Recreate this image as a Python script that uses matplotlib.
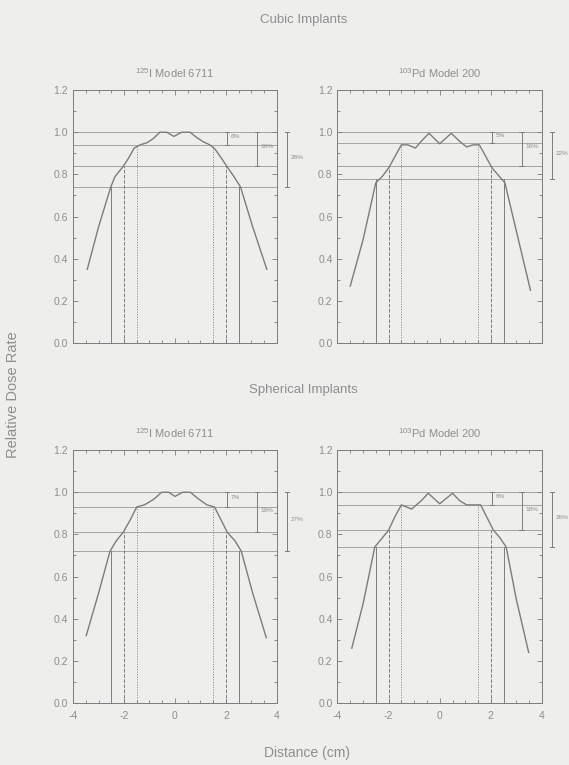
import matplotlib
matplotlib.use('Agg')
import matplotlib.pyplot as plt

plt.rcParams['font.family'] = ['Liberation Sans', 'DejaVu Sans']
plt.rcParams['mathtext.fontset'] = 'custom'
plt.rcParams['mathtext.rm'] = 'Liberation Sans'
plt.rcParams['axes.unicode_minus'] = False

BG = '#eeeeec'
INK = '#8e8e8e'
LINE = '#7c7c7c'

# cubic implants, I-125 model 6711
cubic_i_x = [-3.44, -3.0, -2.52, -2.35, -2.05, -1.83, -1.6, -1.37, -1.1, -0.85, -0.59, -0.33, -0.04,
             0.26, 0.59, 0.85, 1.1, 1.37, 1.57, 1.83, 2.05, 2.31, 2.57, 3.05, 3.6]
cubic_i_y = [0.35, 0.55, 0.74, 0.79, 0.835, 0.875, 0.925, 0.94, 0.95, 0.97, 1.0, 1.0, 0.98,
             1.0, 1.0, 0.975, 0.955, 0.94, 0.92, 0.875, 0.835, 0.79, 0.74, 0.55, 0.35]
# cubic implants, Pd-103 model 200
cubic_pd_x = [-3.5, -3.0, -2.5, -2.25, -2.0, -1.75, -1.5, -1.25, -0.95, -0.7, -0.42, 0.0,
              0.45, 0.75, 1.05, 1.3, 1.55, 1.8, 2.05, 2.3, 2.55, 3.0, 3.55]
cubic_pd_y = [0.27, 0.49, 0.76, 0.79, 0.83, 0.885, 0.94, 0.94, 0.925, 0.96, 0.995, 0.945,
              0.995, 0.96, 0.93, 0.94, 0.94, 0.885, 0.83, 0.795, 0.76, 0.53, 0.25]
# spherical implants, I-125
sph_i_x = [-3.48, -3.0, -2.55, -2.3, -2.03, -1.75, -1.5, -1.2, -0.85, -0.52, -0.25, 0.0,
           0.3, 0.6, 0.9, 1.25, 1.55, 1.8, 2.05, 2.35, 2.6, 3.05, 3.58]
sph_i_y = [0.32, 0.52, 0.72, 0.77, 0.81, 0.87, 0.93, 0.94, 0.965, 1.0, 1.0, 0.98,
           1.0, 1.0, 0.97, 0.94, 0.93, 0.87, 0.81, 0.77, 0.72, 0.52, 0.31]
# spherical implants, Pd-103
sph_pd_x = [-3.44, -3.0, -2.54, -2.27, -2.0, -1.75, -1.5, -1.1, -0.72, -0.45, 0.0,
            0.5, 0.78, 1.05, 1.3, 1.6, 1.85, 2.1, 2.35, 2.6, 3.0, 3.48]
sph_pd_y = [0.26, 0.47, 0.74, 0.78, 0.82, 0.885, 0.94, 0.92, 0.96, 0.995, 0.945,
            0.995, 0.96, 0.94, 0.94, 0.94, 0.88, 0.82, 0.785, 0.74, 0.49, 0.24]

# dose levels (100%, margin levels) and their labels
levels = {
    'cubic_i': [1.0, 0.94, 0.84, 0.74],
    'cubic_pd': [1.0, 0.95, 0.84, 0.78],
    'sph_i': [1.0, 0.93, 0.81, 0.72],
    'sph_pd': [1.0, 0.94, 0.82, 0.74],
}
level_labels = {
    'cubic_i': ['6%', '16%', '26%'],
    'cubic_pd': ['5%', '16%', '22%'],
    'sph_i': ['7%', '19%', '27%'],
    'sph_pd': ['6%', '18%', '26%'],
}
margins = [1.5, 2.0, 2.5]  # cm, half-widths of the marked margins
bracket_x = [2.05, 3.2, 4.38]

panels = [
    ('cubic_i', cubic_i_x, cubic_i_y, [0.1283, 0.5516, 0.3585, 0.3307], r'$^{125}$I Model 6711', False),
    ('cubic_pd', cubic_pd_x, cubic_pd_y, [0.5931, 0.5516, 0.3594, 0.3307], r'$^{103}$Pd Model 200', False),
    ('sph_i', sph_i_x, sph_i_y, [0.1283, 0.0810, 0.3585, 0.3307], r'$^{125}$I Model 6711', True),
    ('sph_pd', sph_pd_x, sph_pd_y, [0.5931, 0.0810, 0.3594, 0.3307], r'$^{103}$Pd Model 200', True),
]

fig = plt.figure(figsize=(5.69, 7.65), dpi=100, facecolor=BG)

for key, xs, ys, pos, sub, show_x in panels:
    ax = fig.add_axes(pos, facecolor=BG)
    ax.plot(xs, ys, color=LINE, lw=1.0)
    lv = levels[key]
    for y in lv:
        ax.axhline(y, color=LINE, lw=0.6, alpha=0.75)
    styles = [':', '--', '-']
    for m, st, top in zip(margins, styles, lv[1:]):
        for sx in (-m, m):
            ax.plot([sx, sx], [0, top], color=LINE, lw=0.7, ls=st)
    # brackets
    for bx, low, lab in zip(bracket_x, lv[1:], level_labels[key]):
        ax.plot([bx, bx], [low, lv[0]], color=LINE, lw=0.7, clip_on=False)
        for yy in (low, lv[0]):
            ax.plot([bx - 0.08, bx + 0.08], [yy, yy], color=LINE, lw=0.7, clip_on=False)
        ax.text(bx + 0.14, (low + lv[0]) / 2 + 0.01, lab, fontsize=4.6, color=INK,
                ha='left', va='center', clip_on=False)
    ax.set_xlim(-4, 4)
    ax.set_ylim(0, 1.2)
    ax.set_xticks([-4, -2, 0, 2, 4])
    ax.set_xticks([i * 0.5 - 4 for i in range(17)], minor=True)
    ax.set_yticks([0, 0.2, 0.4, 0.6, 0.8, 1.0, 1.2])
    ax.set_yticks([i * 0.1 for i in range(13)], minor=True)
    ax.set_yticklabels(['0.0', '0.2', '0.4', '0.6', '0.8', '1.0', '1.2'])
    if not show_x:
        ax.set_xticklabels([])
    ax.tick_params(which='both', direction='in', top=True, right=True, colors=LINE,
                   labelcolor=INK, labelsize=7.5, width=0.6)
    ax.tick_params(which='major', length=3.5)
    ax.tick_params(axis='x', which='major', pad=6)
    ax.tick_params(which='minor', length=2)
    for s in ax.spines.values():
        s.set_color(LINE)
        s.set_linewidth(0.7)
    ax.set_title(sub, fontsize=8, color=INK, pad=9)

fig.text(0.534, 0.974, 'Cubic Implants', fontsize=9.5, color=INK, ha='center', va='center')
fig.text(0.534, 0.490, 'Spherical Implants', fontsize=9.5, color=INK, ha='center', va='center')
fig.text(0.54, 0.016, 'Distance (cm)', fontsize=10, color=INK, ha='center', va='center')
fig.text(0.022, 0.484, 'Relative Dose Rate', fontsize=10.5, color=INK, ha='center', va='center',
         rotation=90)

fig.savefig('out.png', dpi=100, facecolor=BG)
